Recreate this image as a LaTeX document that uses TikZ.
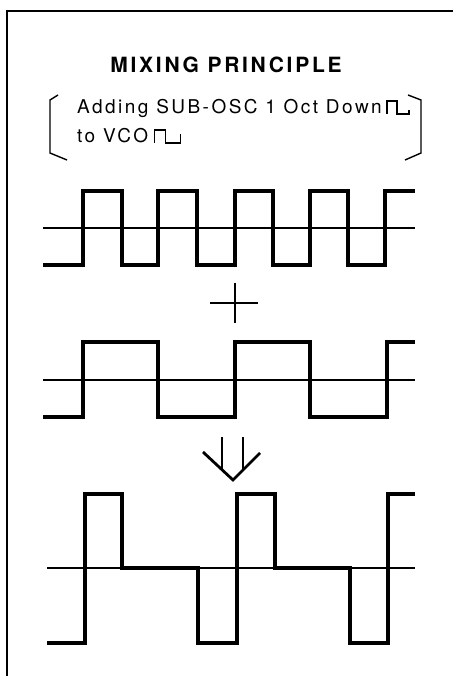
\documentclass[tikz,border=0pt]{standalone}
\usepackage{fontspec}
\setmainfont{TeX Gyre Heros}
\usetikzlibrary{positioning}

\begin{document}
\begin{tikzpicture}[x=1pt, y=-1pt,
  heading/.style={font=\fontsize{21}{25}\selectfont\bfseries\addfontfeatures{LetterSpace=13}, inner sep=0pt},
  txt/.style={font=\fontsize{19}{23}\selectfont\addfontfeatures{LetterSpace=13}, anchor=base west, inner sep=0pt},
  frame/.style={line width=1.4pt},
  wave/.style={line width=3.2pt},
  axis/.style={line width=2pt},
  glyph/.style={line width=1.3pt},
  sign/.style={line width=2.8pt}
]
  \useasboundingbox (0,0) rectangle (456,676);
  \fill[white] (0,0) rectangle (456,676);

  \draw[frame] (453,11) -- (7,11) -- (7,676);

  \node[heading] (title) at (226,65) {MIXING PRINCIPLE};

  \draw[frame] (58,95) -- (50,100) -- (50,153) -- (67,160);
  \draw[frame] (408,95) -- (421,100) -- (421,153) -- (405,160);
  \node[txt] (sub) at (77,114) {Adding SUB-OSC 1 Oct Down};
  \node[txt] (vco) at (77,143) {to VCO};
  \draw[glyph] ([xshift=5pt]sub.base east) -- ++(0,-13) -- ++(10,0) -- ++(0,13) -- ++(12,0) -- ++(0,-4);
  \draw[glyph] ([xshift=6pt]vco.base east) -- ++(0,-13) -- ++(11,0) -- ++(0,13) -- ++(15,0) -- ++(0,-9);

  \draw[axis] (43,228) -- (415,228);
  \draw[wave] (43,265) -- (83,265) -- (83,191) -- (122,191) -- (122,265) -- (158,265) -- (158,191) -- (197,191) -- (197,265) -- (235,265) -- (235,191) -- (273,191) -- (273,265) -- (310,265) -- (310,191) -- (348,191) -- (348,265) -- (385,265) -- (385,191) -- (415,191);

  \draw[sign] (210,303) -- (258,303);
  \draw[sign] (235,283) -- (235,323);

  \draw[axis] (43,380) -- (415,380);
  \draw[wave] (43,417) -- (83,417) -- (83,342) -- (158,342) -- (158,417) -- (235,417) -- (235,342) -- (310,342) -- (310,417) -- (387,417) -- (387,342) -- (415,342);

  \draw[sign] (222,437) -- (222,470);
  \draw[sign] (243,437) -- (243,470);
  \draw[sign] (203,452) -- (233,480) -- (260,453);

  \draw[axis] (47,568) -- (415,568);
  \draw[wave] (47,643) -- (85,643) -- (85,494) -- (122,494) -- (122,568) -- (198,568) -- (198,643) -- (237,643) -- (237,494) -- (275,494) -- (275,568) -- (350,568) -- (350,643) -- (388,643) -- (388,494) -- (415,494);
\end{tikzpicture}
\end{document}
